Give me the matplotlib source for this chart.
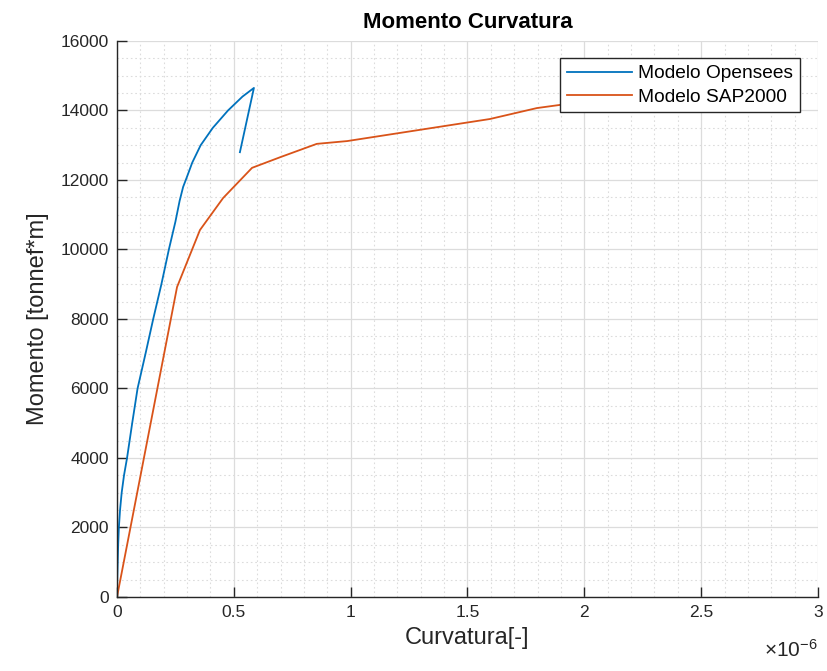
import numpy as np
import matplotlib
matplotlib.use("Agg")
import matplotlib.pyplot as plt
from matplotlib.ticker import MultipleLocator

plt.rcParams["font.family"] = ["Liberation Sans", "DejaVu Sans"]
plt.rcParams["mathtext.fontset"] = "custom"
plt.rcParams["mathtext.rm"] = "Liberation Sans"
plt.rcParams["mathtext.it"] = "Liberation Sans"

# curvature in units of 1e-6, moment in tonnef*m
curv_opensees = [0, 0.001, 0.003, 0.005, 0.008, 0.013, 0.02, 0.03, 0.043, 0.065,
                 0.088, 0.122, 0.155, 0.19, 0.222, 0.25, 0.268, 0.283, 0.30,
                 0.322, 0.358, 0.41, 0.475, 0.537, 0.586, 0.526]
mom_opensees = [0, 500, 1000, 1500, 2000, 2500, 3000, 3500, 4000, 5000,
                6000, 7000, 8000, 9000, 10000, 10800, 11400, 11800, 12100,
                12500, 13000, 13500, 14000, 14400, 14650, 12800]

curv_sap = [0, 0.257, 0.355, 0.454, 0.578, 0.70, 0.855, 0.985, 1.596, 1.797, 1.895, 1.98]
mom_sap = [0, 8920, 10560, 11480, 12350, 12660, 13040, 13120, 13755, 14070, 14160, 14200]

fig = plt.figure(figsize=(8.28, 6.71), dpi=100)
ax = fig.add_axes([0.1413, 0.1103, 0.8466, 0.8286])

ax.plot(np.array(curv_opensees) * 1e-6, mom_opensees, color="#0072BD", lw=1.3,
        label="Modelo Opensees")
ax.plot(np.array(curv_sap) * 1e-6, mom_sap, color="#D95319", lw=1.3,
        label="Modelo SAP2000")

ax.set_xlim(0, 3e-6)
ax.set_ylim(0, 16000)
ax.xaxis.set_minor_locator(MultipleLocator(0.1e-6))
ax.yaxis.set_major_locator(MultipleLocator(2000))
ax.yaxis.set_minor_locator(MultipleLocator(500))
ax.set_xticks(np.arange(0, 3.01, 0.5) * 1e-6)
ax.set_xticklabels(["0", "0.5", "1", "1.5", "2", "2.5", "3"])

ax.grid(which="major", color="#dcdcdc", lw=0.9, ls="-")
ax.grid(which="minor", color="#dcdcdc", lw=0.8, ls=(0, (1.5, 2.5)))
ax.set_axisbelow(True)

for side in ("top", "right"):
    ax.spines[side].set_visible(False)
for side in ("left", "bottom"):
    ax.spines[side].set_color("#262626")
    ax.spines[side].set_linewidth(1.0)

ax.tick_params(which="major", direction="in", length=7, width=1.0,
               color="#262626", labelsize=12.5, labelcolor="#262626", pad=6)
ax.tick_params(which="minor", length=0)

ax.set_xlabel("Curvatura[-]", fontsize=17, color="#262626", labelpad=5)
ax.set_ylabel("Momento [tonnef*m]", fontsize=17, color="#262626", labelpad=8)
ax.set_title("Momento Curvatura", fontsize=16, fontweight="bold", pad=9)

ax.text(1.0, -0.075, r"×10$^{-6}$", transform=ax.transAxes, ha="right",
        va="top", fontsize=15, color="#262626")

leg = ax.legend(loc="upper right", bbox_to_anchor=(0.974, 0.969), fontsize=13.8,
                fancybox=False, framealpha=1, edgecolor="#262626",
                handlelength=3.4, borderaxespad=0, borderpad=0.35,
                labelspacing=0.3, handletextpad=0.3)
leg.get_frame().set_linewidth(1.0)

fig.savefig("out.png", dpi=100)
